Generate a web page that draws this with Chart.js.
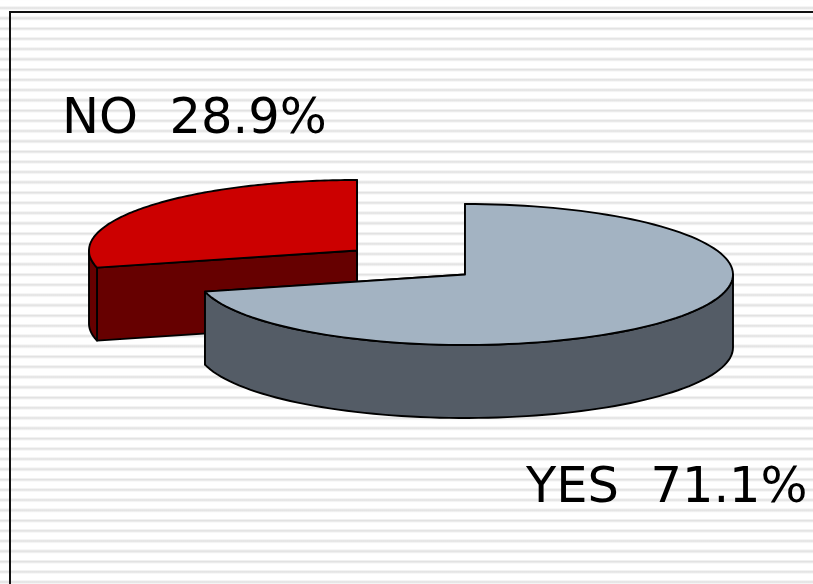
<!DOCTYPE html>
<html><head><meta charset="utf-8">
<style>
html,body{margin:0;padding:0;width:813px;height:584px;overflow:hidden;background-color:#fff;
background-image:repeating-linear-gradient(to bottom,#f3f3f3 0,#e2e2e2 1px,#e2e2e2 2px,#f3f3f3 3px,#fff 3.6px,#fff 10.25px);background-position:0 6.5px;}
#frame{position:absolute;left:9px;top:11px;right:0;bottom:0;border-left:2px solid #111;border-top:2px solid #111;}
canvas{position:absolute;left:0;top:0;}
</style>
<script src="https://cdn.jsdelivr.net/npm/chart.js@4"></script>
</head><body>
<div id="frame"></div>
<canvas id="c" width="813" height="584"></canvas>
<script>
const categories = ['NO', 'YES'];
const shares = [28.9, 71.1];
const topColors = ['#CC0000', '#A3B3C2'];
const wallColors = ['#660000', '#545C66'];
const sliceShiftX = [-108, 0];
const sliceShiftY = [-24, 0];
const labelX = [62, 526];
const labelY = [133, 502];
const RX = 268, RY = 70.5, DEPTH = 73, CX = 465, CY = 274.5;

const pie3d = {
  id: 'pie3d',
  beforeDatasetDraw(chart, args) {
    const ctx = chart.ctx;
    const sq = RY / RX;
    args.meta.data.forEach((arc, i) => {
      const ox = CX + sliceShiftX[i], oy = CY + sliceShiftY[i];
      const pt = (t, d) => [ox + RX * Math.cos(t), oy + RY * Math.sin(t) + (d || 0)];
      const a0 = arc.startAngle, a1 = arc.endAngle;
      ctx.save();
      ctx.lineWidth = 1.9; ctx.strokeStyle = '#000'; ctx.lineJoin = 'round';
      ctx.fillStyle = wallColors[i];
      // radial faces
      [a0, a1].forEach(a => {
        const p = pt(a);
        ctx.beginPath();
        ctx.moveTo(ox, oy); ctx.lineTo(p[0], p[1]);
        ctx.lineTo(p[0], p[1] + DEPTH); ctx.lineTo(ox, oy + DEPTH);
        ctx.closePath(); ctx.fill(); ctx.stroke();
      });
      // outer rim, facing front part only
      const TAU = Math.PI * 2;
      [[a0, a1], [a0 - TAU, a1 - TAU], [a0 + TAU, a1 + TAU]].forEach(([s, e]) => {
        const from = Math.max(s, 0), to = Math.min(e, Math.PI);
        if (to > from) {
          ctx.beginPath();
          const N = 80;
          for (let k = 0; k <= N; k++) { const p = pt(from + (to - from) * k / N); k ? ctx.lineTo(p[0], p[1]) : ctx.moveTo(p[0], p[1]); }
          for (let k = N; k >= 0; k--) { const p = pt(from + (to - from) * k / N, DEPTH); ctx.lineTo(p[0], p[1]); }
          ctx.closePath(); ctx.fill(); ctx.stroke();
        }
      });
      // top face drawn by the library's own arc element
      ctx.save();
      ctx.translate(ox, oy); ctx.scale(1, sq); ctx.translate(-arc.x, -arc.y);
      arc.draw(ctx);
      ctx.restore();
      // outline in screen space
      ctx.beginPath();
      ctx.moveTo(ox, oy);
      const N = 120;
      for (let k = 0; k <= N; k++) { const p = pt(a0 + (a1 - a0) * k / N); ctx.lineTo(p[0], p[1]); }
      ctx.closePath(); ctx.stroke();
      ctx.restore();
    });
    return false;
  },
  afterDraw(chart) {
    const ctx = chart.ctx;
    ctx.save();
    ctx.fillStyle = '#000';
    ctx.font = '49.5px "DejaVu Sans"';
    ctx.textBaseline = 'alphabetic';
    categories.forEach((c, i) => ctx.fillText(c + '  ' + shares[i].toFixed(1) + '%', labelX[i], labelY[i]));
    ctx.restore();
  }
};

new Chart(document.getElementById('c'), {
  type: 'pie',
  data: { labels: categories, datasets: [{ data: shares, backgroundColor: topColors, borderWidth: 0 }] },
  options: {
    responsive: false, animation: false, radius: RX,
    rotation: 360 * shares[1] / 100,
    plugins: { legend: { display: false }, tooltip: { enabled: false } }
  },
  plugins: [pie3d]
});
</script>
</body></html>
